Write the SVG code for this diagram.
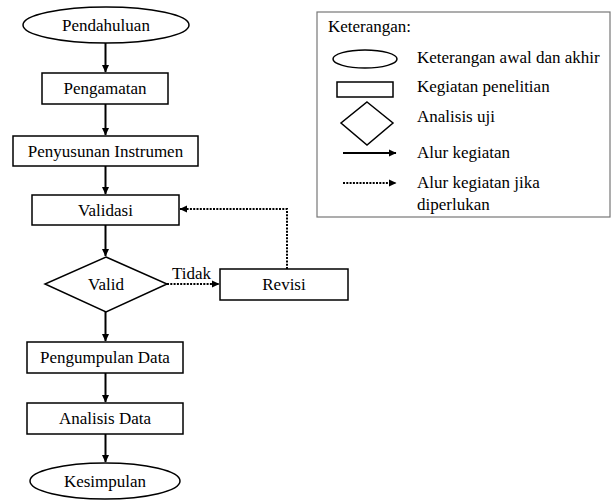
<svg xmlns="http://www.w3.org/2000/svg" width="611" height="500" viewBox="0 0 611 500" font-family="'Liberation Serif', 'DejaVu Serif', serif" font-size="17">
<style>
text{font-family:Liberation Serif,Tinos,DejaVu Serif,serif;font-size:17px;fill:#000}
.c{text-anchor:middle}
.s{fill:#fff;stroke:#000;stroke-width:1.5}
.ln{fill:none;stroke:#000;stroke-width:2}
.dt{fill:none;stroke:#000;stroke-width:2;stroke-dasharray:2 1.3}
</style>
<defs>
<marker id="ah" markerWidth="8" markerHeight="8" refX="7" refY="4" orient="auto" markerUnits="userSpaceOnUse">
<path d="M0,0.5 L7.5,4 L0,7.5 Z" fill="#000"/>
</marker>
</defs>
<rect width="611" height="500" fill="#fff"/>
<g id="connectors">
<line class="ln" x1="105.5" y1="43" x2="105.5" y2="72" marker-end="url(#ah)"/>
<line class="ln" x1="105.5" y1="104" x2="105.5" y2="135" marker-end="url(#ah)"/>
<line class="ln" x1="105.5" y1="166" x2="105.5" y2="194" marker-end="url(#ah)"/>
<line class="ln" x1="105.5" y1="225" x2="105.5" y2="256" marker-end="url(#ah)"/>
<line class="ln" x1="105.5" y1="312" x2="105.5" y2="341" marker-end="url(#ah)"/>
<line class="ln" x1="105.5" y1="373" x2="105.5" y2="402" marker-end="url(#ah)"/>
<line class="ln" x1="105.5" y1="434" x2="105.5" y2="462" marker-end="url(#ah)"/>
<line class="dt" x1="167" y1="284" x2="219" y2="284" marker-end="url(#ah)"/>
<polyline class="dt" points="287,269 287,209 180,209" marker-end="url(#ah)"/>
<text x="172" y="279">Tidak</text>
</g>
<g id="pendahuluan"><ellipse class="s" cx="106" cy="25" rx="83" ry="18"/><text class="c" x="106" y="31">Pendahuluan</text></g>
<g id="pengamatan"><rect class="s" x="42" y="73" width="126" height="31"/><text class="c" x="105" y="94">Pengamatan</text></g>
<g id="penyusunan"><rect class="s" x="13" y="136" width="185" height="30"/><text class="c" x="105.5" y="157">Penyusunan Instrumen</text></g>
<g id="validasi"><rect class="s" x="32" y="195" width="147" height="30"/><text class="c" x="105.5" y="216">Validasi</text></g>
<g id="valid"><polygon class="s" points="106,257 167,284 106,312 45,284"/><text class="c" x="106" y="290">Valid</text></g>
<g id="revisi"><rect class="s" x="220" y="269" width="128" height="31"/><text class="c" x="284" y="290">Revisi</text></g>
<g id="pengumpulan"><rect class="s" x="27" y="342" width="156" height="31"/><text class="c" x="105" y="363">Pengumpulan Data</text></g>
<g id="analisis"><rect class="s" x="27" y="403" width="156" height="31"/><text class="c" x="105" y="424">Analisis Data</text></g>
<g id="kesimpulan"><ellipse class="s" cx="105" cy="481" rx="75" ry="18"/><text class="c" x="105" y="487">Kesimpulan</text></g>
<g id="legend">
<rect x="317" y="12" width="293" height="205" fill="#fff" stroke="#777" stroke-width="1.2"/>
<text x="328" y="32">Keterangan:</text>
<ellipse class="s" cx="365" cy="59" rx="32" ry="9"/>
<text x="417" y="63">Keterangan awal dan akhir</text>
<rect class="s" x="337" y="82" width="56" height="15"/>
<text x="417" y="92">Kegiatan penelitian</text>
<polygon class="s" points="367,102 393,123 367,145 341,123"/>
<text x="417" y="122">Analisis uji</text>
<line class="ln" x1="343" y1="153" x2="396" y2="153" marker-end="url(#ah)"/>
<text x="417" y="158">Alur kegiatan</text>
<line class="dt" x1="343" y1="183" x2="396" y2="183" marker-end="url(#ah)"/>
<text x="417" y="188">Alur kegiatan jika</text>
<text x="417" y="210">diperlukan</text>
</g>
</svg>
